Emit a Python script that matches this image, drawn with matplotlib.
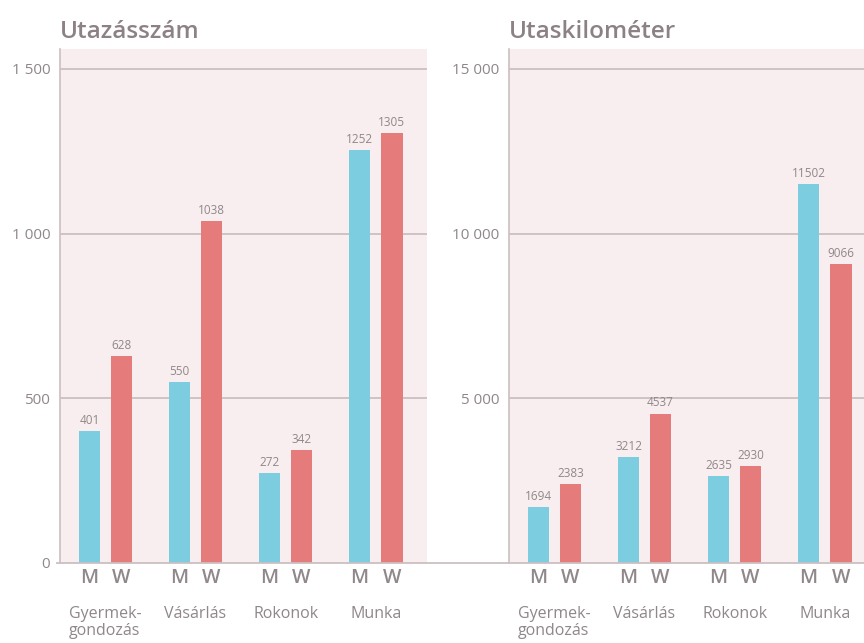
import numpy as np
import matplotlib.pyplot as plt
from matplotlib.lines import Line2D
from matplotlib.ticker import FuncFormatter

categories = ['Gyermek-\ngondozás', 'Vásárlás', 'Rokonok', 'Munka']
trips_m = [401, 550, 272, 1252]
trips_w = [628, 1038, 342, 1305]
km_m = [1694, 3212, 2635, 11502]
km_w = [2383, 4537, 2930, 9066]

titles = ['Utazásszám', 'Utaskilométer']
ticks_left = [0, 500, 1000, 1500]
ticks_right = [5000, 10000, 15000]

COL_M = '#7dcde0'
COL_W = '#e57b7b'
BG = '#f8eef0'
GRID = '#cbbfc2'
TXT = '#8f8789'
TITLE = '#8c8184'

plt.rcParams['font.family'] = ['Open Sans', 'DejaVu Sans']

fig = plt.figure(figsize=(8.64, 6.43), dpi=100)
fig.patch.set_facecolor('white')

W_AX = 367 / 864
BOT = 1 - 563 / 643
H_AX = (563 - 49) / 643

def fmt(v, pos):
    return f'{int(v):,}'.replace(',', ' ')

def panel(left, m_vals, w_vals, ymax, ticks, title):
    ax = fig.add_axes([left, BOT, W_AX, H_AX])
    ax.set_facecolor(BG)
    x = np.arange(len(categories))
    off, bw = 0.178, 0.24
    bm = ax.bar(x - off, m_vals, bw, color=COL_M, zorder=3)
    bwr = ax.bar(x + off, w_vals, bw, color=COL_W, zorder=3)
    for bars, vals in ((bm, m_vals), (bwr, w_vals)):
        for b, v in zip(bars, vals):
            ax.annotate(str(v), (b.get_x() + b.get_width() / 2, v),
                        xytext=(0, 3), textcoords='offset points',
                        ha='center', va='bottom', fontsize=8.5, color=TXT)
    ax.set_xlim(-0.505, 3.57)
    ax.set_ylim(0, ymax)
    ax.set_yticks(ticks)
    ax.yaxis.set_major_formatter(FuncFormatter(fmt))
    ax.tick_params(axis='y', length=0, pad=7, labelsize=11, labelcolor=TXT)
    ax.set_xticks([])
    for t in ticks:
        if t > 0:
            ax.axhline(t, color=GRID, lw=1.3, zorder=1)
    for s in ['top', 'right', 'bottom']:
        ax.spines[s].set_visible(False)
    ax.spines['left'].set_color(GRID)
    ax.spines['left'].set_linewidth(1.2)
    for i in x:
        ax.text(i - off, -0.03, 'M', transform=ax.get_xaxis_transform(),
                ha='center', va='center', fontsize=14, fontweight='semibold', color=TXT)
        ax.text(i + off, -0.03, 'W', transform=ax.get_xaxis_transform(),
                ha='center', va='center', fontsize=14, fontweight='semibold', color=TXT)
        ax.text(i, -0.083, categories[i], transform=ax.get_xaxis_transform(),
                ha='center', va='top', fontsize=11.5, color=TXT,
                linespacing=1.15, multialignment='left')
    ax.text(0, 1.021, title, transform=ax.transAxes, ha='left', va='baseline',
            fontsize=17.5, fontweight='semibold', color=TITLE)
    return ax

panel(60 / 864, trips_m, trips_w, 1560, ticks_left, titles[0])
axr = panel(509 / 864, km_m, km_w, 15600, ticks_right, titles[1])

# continuous baseline across both panels
fig.add_artist(Line2D([57 / 864, 1.0], [BOT, BOT], transform=fig.transFigure,
                      color=GRID, lw=1.3))

fig.savefig('out.png', dpi=100)
